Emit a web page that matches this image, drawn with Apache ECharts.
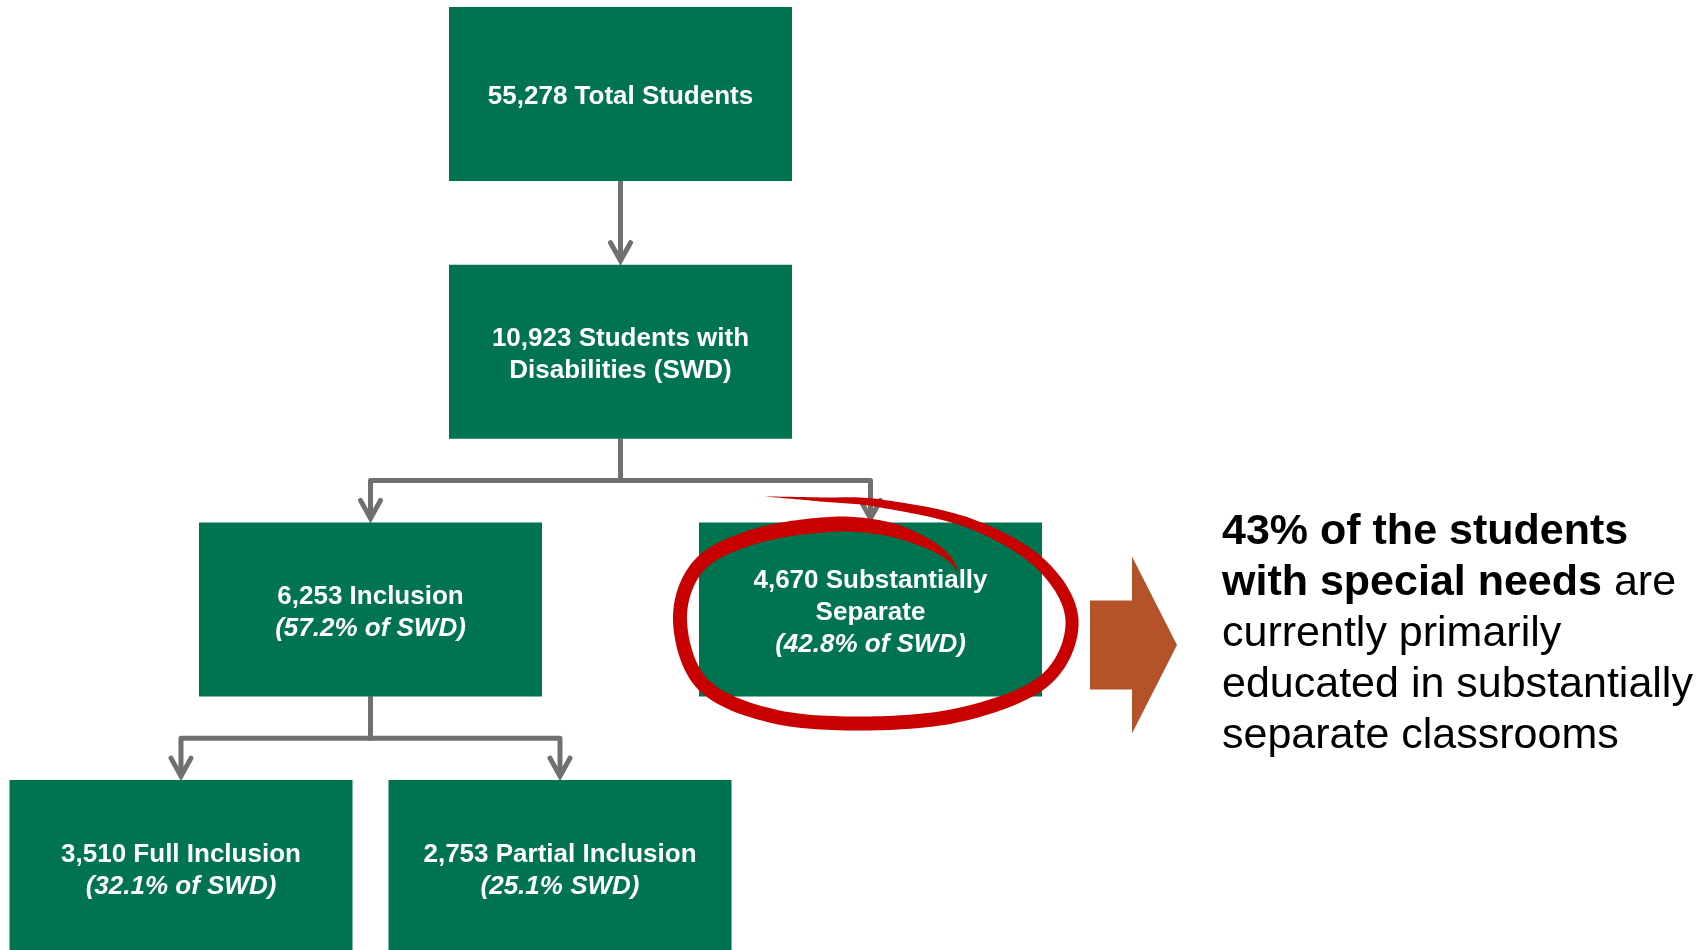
<!DOCTYPE html>
<html><head><meta charset="utf-8">
<script src="https://cdn.jsdelivr.net/npm/echarts@6/dist/echarts.min.js"></script>
<style>html,body{margin:0;padding:0;background:#fff;overflow:hidden}#c{width:1706px;height:950px}</style>
</head><body><div id="c"></div><script>
// ---- data ----
const nodeNames = ['Total Students', 'Students with\nDisabilities (SWD)', 'Inclusion', 'Substantially\nSeparate', 'Full Inclusion', 'Partial Inclusion'];
const nodeCounts = [55278, 10923, 6253, 4670, 3510, 2753];
const nodeShares = [null, null, 57.2, 42.8, 32.1, 25.1];
const shareLabels = ['', '', 'of SWD', 'of SWD', 'of SWD', 'SWD'];
const nodeParents = [-1, 0, 1, 1, 2, 2];
const highlightNode = 3;
const calloutBold = ['of the students', 'with special needs'];
const calloutPlain = ['are', 'currently primarily', 'educated in substantially', 'separate classrooms'];

// ---- layout / style ----
const FONT = '"Liberation Sans", Arial, Helvetica, sans-serif';
const BOX_W = 343, BOX_H = 174;
const ROOT_X = 620.5, TOP_Y = 94, LEVEL_STEP = 257.7;
const SIBLING_GAP = [0, 0, 500, 379];
const TEXT_DY = 3.3;
const GREEN = '#007350', GRAY = '#707070', RED = '#C80000', ORANGE = '#B4532A';

const level = [], posX = [], posY = [];
nodeParents.forEach((p, i) => { level[i] = p < 0 ? 0 : level[p] + 1; });
nodeParents.forEach((p, i) => {
  if (p < 0) { posX[i] = ROOT_X; }
  else {
    const sibs = nodeParents.map((q, j) => q === p ? j : -1).filter(j => j >= 0);
    const k = sibs.indexOf(i), n = sibs.length;
    posX[i] = posX[p] + (k - (n - 1) / 2) * SIBLING_GAP[level[i]];
  }
  posY[i] = TOP_Y + level[i] * LEVEL_STEP;
});

function fmt(n) { return n.toLocaleString('en-US'); }
function nodeText(i) {
  const lines = (fmt(nodeCounts[i]) + ' ' + nodeNames[i]).split('\n').map(s => '{b|' + s + '}');
  if (nodeShares[i] != null) lines.push('{i|(' + nodeShares[i].toFixed(1) + '% ' + shareLabels[i] + ')}');
  return lines.join('\n');
}

const nodeData = nodeCounts.map((c, i) => [posX[i], posY[i], i]);
const linkData = nodeParents.map((p, i) => [posX[i], posY[i], i]).filter(d => nodeParents[d[2]] >= 0);

// ring centre-line around highlighted node (offsets from node centre) with stroke widths
const ringPts = [[-107.5,-113,0],[-50.5,-110,4],[9.5,-106,8],[99.5,-86,10],[170.5,-45,12],[201.5,11,13],[175.5,70,13],[95.5,104,14],[-0.5,114,14],[-96.5,107,14],[-167.5,75,14],[-190.5,11,14],[-171.5,-44,14],[-115.5,-73,15],[-40.5,-85,15],[14.5,-81,14],[54.5,-67,10],[77.5,-52,5],[88.5,-36,0]];

function catmull(pts, samples) {
  const out = [];
  for (let s = 0; s < pts.length - 1; s++) {
    const p0 = pts[Math.max(0, s - 1)], p1 = pts[s], p2 = pts[s + 1], p3 = pts[Math.min(pts.length - 1, s + 2)];
    for (let k = 0; k < samples; k++) {
      const t = k / samples, t2 = t * t, t3 = t2 * t;
      const r = [];
      for (let d = 0; d < 3; d++) {
        r[d] = 0.5 * ((2 * p1[d]) + (-p0[d] + p2[d]) * t + (2 * p0[d] - 5 * p1[d] + 4 * p2[d] - p3[d]) * t2 + (-p0[d] + 3 * p1[d] - 3 * p2[d] + p3[d]) * t3);
      }
      out.push(r);
    }
  }
  out.push(pts[pts.length - 1].slice());
  return out;
}

const chart = echarts.init(document.getElementById('c'), null, { renderer: 'canvas' });

chart.setOption({
  animation: false,
  backgroundColor: '#ffffff',
  grid: { left: 0, right: 0, top: 0, bottom: 0 },
  xAxis: { type: 'value', min: 0, max: 1706, show: false },
  yAxis: { type: 'value', min: 0, max: 950, inverse: true, show: false },
  series: [
    {
      type: 'custom', name: 'links', clip: false, z: 1,
      encode: { x: 0, y: 1 },
      data: linkData,
      renderItem: function (params, api) {
        const i = api.value(2), p = nodeParents[i];
        const c = api.coord([posX[i], posY[i]]);
        const pc = api.coord([posX[p], posY[p]]);
        const sz = api.size([BOX_W, BOX_H]);
        const top = c[1] - sz[1] / 2 - 4;
        const pb = pc[1] + sz[1] / 2;
        const midY = (pc[1] + c[1]) / 2;
        const pts = pc[0] === c[0] ? [[pc[0], pb], [c[0], top]] : [[pc[0], pb], [pc[0], midY], [c[0], midY], [c[0], top]];
        const ls = { stroke: GRAY, lineWidth: 5, fill: null, lineJoin: 'round', lineCap: 'butt' };
        return {
          type: 'group', children: [
            { type: 'polyline', shape: { points: pts }, style: ls },
            { type: 'polyline', shape: { points: [[c[0] - 10, top - 18], [c[0], top], [c[0] + 10, top - 18]] }, style: Object.assign({}, ls, { lineCap: 'round', lineJoin: 'miter' }) }
          ]
        };
      }
    },
    {
      type: 'custom', name: 'nodes', clip: false, z: 2,
      encode: { x: 0, y: 1 },
      data: nodeData,
      renderItem: function (params, api) {
        const i = api.value(2);
        const c = api.coord([api.value(0), api.value(1)]);
        const sz = api.size([BOX_W, BOX_H]);
        const rs = { fontFamily: FONT, fontSize: 26, lineHeight: 32, fill: '#ffffff', fontWeight: 'bold' };
        return {
          type: 'group', children: [
            { type: 'rect', shape: { x: c[0] - sz[0] / 2, y: c[1] - sz[1] / 2, width: sz[0], height: sz[1] }, style: { fill: GREEN } },
            { type: 'text', x: c[0], y: c[1] + TEXT_DY, style: {
              text: nodeText(i), align: 'center', verticalAlign: 'middle',
              rich: { b: rs, i: Object.assign({}, rs, { fontStyle: 'italic' }) }
            } }
          ]
        };
      }
    },
    {
      type: 'custom', name: 'callout', clip: false, z: 5,
      encode: { x: 0, y: 1 },
      data: [[posX[highlightNode], posY[highlightNode], highlightNode]],
      renderItem: function (params, api) {
        const cx = api.value(0), cy = api.value(1);
        const P = (dx, dy) => api.coord([cx + dx, cy + dy]);
        const line = catmull(ringPts, 16);
        const left = [], right = [];
        for (let k = 0; k < line.length; k++) {
          const a = line[Math.max(0, k - 1)], b = line[Math.min(line.length - 1, k + 1)];
          let tx = b[0] - a[0], ty = b[1] - a[1];
          const L = Math.hypot(tx, ty) || 1; tx /= L; ty /= L;
          const w = Math.max(0, line[k][2]) / 2;
          left.push(P(line[k][0] - ty * w, line[k][1] + tx * w));
          right.push(P(line[k][0] + ty * w, line[k][1] - tx * w));
        }
        const ring = left.concat(right.reverse());
        const arrow = [P(219.5, -9), P(261.5, -9), P(261.5, -53), P(306.5, 35.5), P(261.5, 124), P(261.5, 80), P(219.5, 80)];
        const tp = P(351.5, 24.5);
        const pct = Math.round(nodeShares[highlightNode]) + '%';
        const txt = '{b|' + pct + ' ' + calloutBold[0] + '}\n{b|' + calloutBold[1] + '}{r| ' + calloutPlain[0] + '}\n' +
          calloutPlain.slice(1).map(s => '{r|' + s + '}').join('\n');
        const base = { fontFamily: FONT, fontSize: 43, lineHeight: 51, fill: '#000000' };
        return {
          type: 'group', children: [
            { type: 'polygon', shape: { points: ring }, style: { fill: RED } },
            { type: 'polygon', shape: { points: arrow }, style: { fill: ORANGE } },
            { type: 'text', x: tp[0], y: tp[1], style: {
              text: txt, align: 'left', verticalAlign: 'middle',
              rich: { b: Object.assign({}, base, { fontWeight: 'bold' }), r: Object.assign({}, base, { fontWeight: 'normal' }) }
            } }
          ]
        };
      }
    }
  ]
});
</script></body></html>
